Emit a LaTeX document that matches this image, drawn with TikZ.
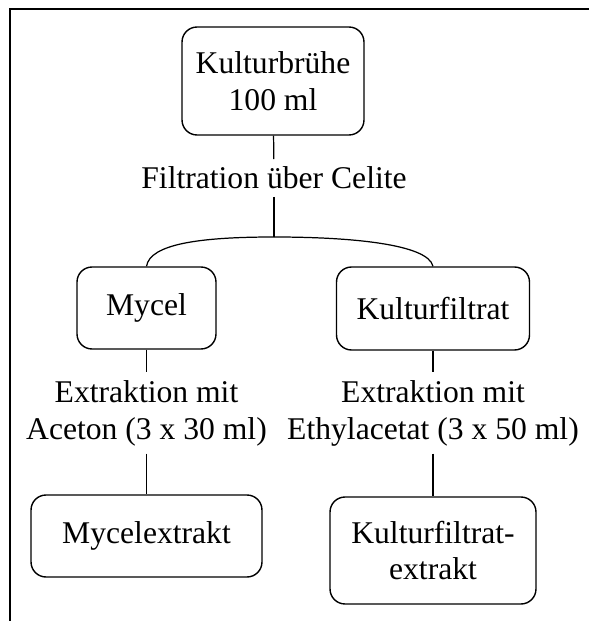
\documentclass[tikz,border=0pt]{standalone}
\usepackage{fontspec}
\setmainfont{Liberation Serif}
\usepackage{xcolor}
\usepackage{tikz}
\usetikzlibrary{positioning, calc}
\tikzstyle{stage} = [
    rectangle, 
    rounded corners=0.3cm, 
    text centered, 
    align=center,
    draw=black, 
    line width=0.8pt,
    font=\fontsize{18}{21}\selectfont
]
\tikzstyle{label} = [
    align=center,
    inner sep=0.15cm,
    font=\fontsize{18}{21}\selectfont
]
\tikzstyle{link} = [
    line width=0.7pt, 
    color=black
]

\begin{document}
\begin{tikzpicture}[x=0.02cm, y=-0.02cm]
        \useasboundingbox (0,0) rectangle (589,621);
        % Frame
        \draw[line width=0.6pt] (10,621) -- (10,9) -- (589,9);
        
        % Stages
        \node[stage, minimum width=3.64cm, minimum height=2.16cm] (broth) at (273,81) {Kulturbrühe\\100 ml};
        \node[stage, minimum width=2.78cm, minimum height=1.64cm] (mycel) at (146.5,308) {Mycel};
        \node[stage, minimum width=3.86cm, minimum height=1.66cm] (filtrate) at (433,308.5) {Kulturfiltrat};
        \node[stage, minimum width=4.62cm, minimum height=1.64cm] (mycelext) at (146.5,536) {Mycelextrakt};
        \node[stage, minimum width=4.12cm, minimum height=2.14cm] (filtrateext) at (433,550.5) {Kulturfiltrat-\\extrakt};
        
        % Steps
        \node[label] (filtration) at (274,178) {Filtration über Celite};
        \node[label] (acetone) at (146.5,413) {Extraktion mit\\Aceton (3 x 30 ml)};
        \node[label] (ethyl) at (433,413) {Extraktion mit\\Ethylacetat (3 x 50 ml)};
        \coordinate (split) at (274,237);
        
        % Lines
        \draw[link] (broth) -- (filtration);
        \draw[link] (filtration) -- (split);
        \draw[link] (mycel.north) .. controls (150,244) and (200,237) .. (split);
        \draw[link] (split) .. controls (350,237) and (428,244) .. (filtrate.north);
        \draw[link] (mycel) -- (acetone);
        \draw[link] (acetone) -- (mycelext);
        \draw[link] (filtrate) -- (ethyl);
        \draw[link] (ethyl) -- (filtrateext);
    \end{tikzpicture}
\end{document}
